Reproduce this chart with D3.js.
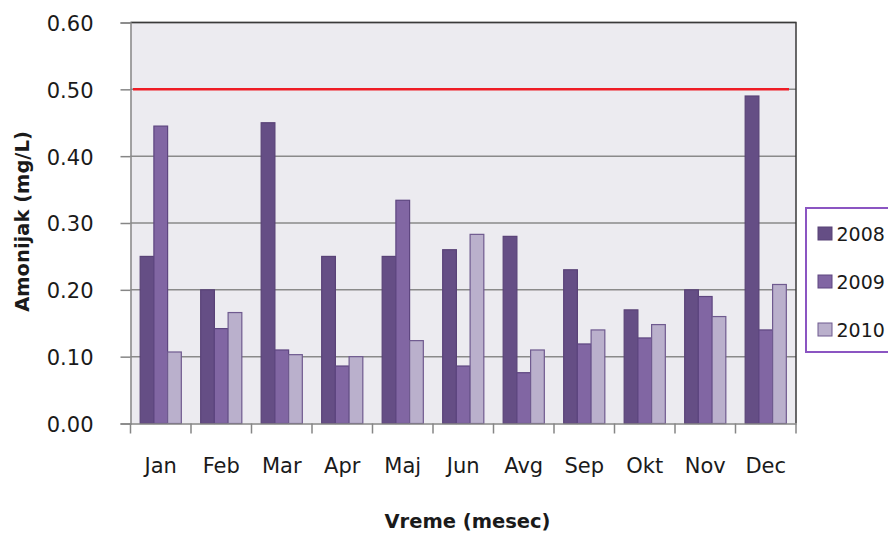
<!DOCTYPE html>
<html>
<head>
<meta charset="utf-8">
<script src="https://cdn.jsdelivr.net/npm/d3@7"></script>
<style>
  html, body { margin: 0; padding: 0; background: #ffffff; }
  svg { display: block; }
  text { font-family: "DejaVu Sans", Verdana, sans-serif; fill: #1a1a1a; }
</style>
</head>
<body>
<svg id="chart" width="888" height="533"></svg>
<script>
// Monthly ammonia concentration (mg/L), three years
const months = ["Jan", "Feb", "Mar", "Apr", "Maj", "Jun", "Avg", "Sep", "Okt", "Nov", "Dec"];
const years = ["2008", "2009", "2010"];
const values2008 = [0.250, 0.200, 0.450, 0.250, 0.250, 0.260, 0.280, 0.230, 0.170, 0.200, 0.490];
const values2009 = [0.445, 0.142, 0.110, 0.086, 0.334, 0.086, 0.076, 0.119, 0.128, 0.190, 0.140];
const values2010 = [0.107, 0.166, 0.103, 0.100, 0.124, 0.283, 0.110, 0.140, 0.148, 0.160, 0.208];
const limitValue = 0.50;
const yTicks = [0.00, 0.10, 0.20, 0.30, 0.40, 0.50, 0.60];
const yTitle = "Amonijak (mg/L)";
const xTitle = "Vreme (mesec)";

const seriesValues = [values2008, values2009, values2010];
const fills = ["#654e85", "#8166a3", "#bab0cc"];
const strokes = ["#594277", "#5e4680", "#6f5a8f"];

const svg = d3.select("#chart");
const plot = { left: 130.5, right: 796, top: 22.5, bottom: 423.5 };

const x = d3.scaleBand().domain(months).range([plot.left, plot.right]).padding(0);
const inner = d3.scaleBand().domain(years)
  .range([x.bandwidth() * 0.16, x.bandwidth() * 0.84]).padding(0);
const y = d3.scaleLinear().domain([0, 0.6]).range([plot.bottom, plot.top]);

// plot area background
svg.append("rect")
  .attr("x", plot.left).attr("y", plot.top)
  .attr("width", plot.right - plot.left).attr("height", plot.bottom - plot.top)
  .attr("fill", "#ecebf0");

// horizontal gridlines
svg.append("g")
  .selectAll("line")
  .data(yTicks.slice(1))
  .join("line")
  .attr("x1", plot.left).attr("x2", plot.right)
  .attr("y1", d => y(d)).attr("y2", d => y(d))
  .attr("stroke", "#8a8a8a").attr("stroke-width", 1.5);

// bars
const rows = months.map((m, i) => ({ month: m, vals: seriesValues.map(s => s[i]) }));
svg.append("g")
  .selectAll("g")
  .data(rows)
  .join("g")
  .attr("transform", d => `translate(${x(d.month)},0)`)
  .selectAll("rect")
  .data(d => d.vals.map((v, k) => ({ year: years[k], v, k })))
  .join("rect")
  .attr("x", d => inner(d.year))
  .attr("width", inner.bandwidth())
  .attr("y", d => y(d.v))
  .attr("height", d => y(0) - y(d.v))
  .attr("fill", d => fills[d.k])
  .attr("stroke", d => strokes[d.k])
  .attr("stroke-width", 1.2);

// limit line
svg.append("line")
  .attr("x1", plot.left + 2.5).attr("x2", plot.right - 7)
  .attr("y1", y(limitValue)).attr("y2", y(limitValue))
  .attr("stroke", "#ee1c25").attr("stroke-width", 2.5);

// plot frame top/right
svg.append("path")
  .attr("d", `M${plot.left},${plot.top}H${plot.right}V${plot.bottom}`)
  .attr("fill", "none").attr("stroke", "#3a3a3a").attr("stroke-width", 1.5);

// y axis
const yAxis = d3.axisLeft(y).tickValues(yTicks).tickFormat(d3.format(".2f"))
  .tickSize(10).tickPadding(27);
const gy = svg.append("g").attr("transform", `translate(${plot.left},0)`).call(yAxis);
gy.select(".domain").attr("stroke", "#868686").attr("stroke-width", 1.5);
gy.selectAll(".tick line").attr("stroke", "#868686").attr("stroke-width", 1.5);
gy.selectAll(".tick text").attr("font-size", 21).attr("fill", "#1a1a1a")
  .attr("dy", "0.38em")
  .style("font-family", "'DejaVu Sans', Verdana, sans-serif");

// x axis: ticks between categories, labels centred in each band
const xAxis = d3.axisBottom(x).tickSize(0).tickPadding(35);
const gx = svg.append("g").attr("transform", `translate(0,${plot.bottom})`).call(xAxis);
gx.select(".domain").attr("stroke", "#868686").attr("stroke-width", 1.5);
gx.selectAll(".tick text").attr("font-size", 21).attr("fill", "#1a1a1a")
  .style("font-family", "'DejaVu Sans', Verdana, sans-serif");
const edges = months.map(m => x(m)).concat([x(months[months.length - 1]) + x.bandwidth()]);
svg.append("g").selectAll("line").data(edges).join("line")
  .attr("x1", d => d).attr("x2", d => d)
  .attr("y1", plot.bottom).attr("y2", plot.bottom + 10)
  .attr("stroke", "#868686").attr("stroke-width", 1.5);

// axis titles
svg.append("text")
  .attr("transform", `translate(29,221.5) rotate(-90)`)
  .attr("text-anchor", "middle")
  .attr("font-size", 19.5).attr("font-weight", "bold")
  .text(yTitle);
svg.append("text")
  .attr("x", 467.5).attr("y", 528)
  .attr("text-anchor", "middle")
  .attr("font-size", 19.5).attr("font-weight", "bold")
  .text(xTitle);

// legend
const legend = svg.append("g").attr("transform", "translate(806,208)");
legend.append("rect")
  .attr("x", 0).attr("y", 0).attr("width", 90).attr("height", 144)
  .attr("fill", "#ffffff").attr("stroke", "#8b55c2").attr("stroke-width", 2);
const items = legend.selectAll("g.item").data(years).join("g")
  .attr("class", "item")
  .attr("transform", (d, i) => `translate(12,${19 + i * 48})`);
items.append("rect")
  .attr("width", 14).attr("height", 13)
  .attr("fill", (d, i) => fills[i]).attr("stroke", (d, i) => strokes[i]).attr("stroke-width", 1);
items.append("text")
  .attr("x", 18.5).attr("y", 13.5)
  .attr("font-size", 19)
  .text(d => d);
</script>
</body>
</html>
